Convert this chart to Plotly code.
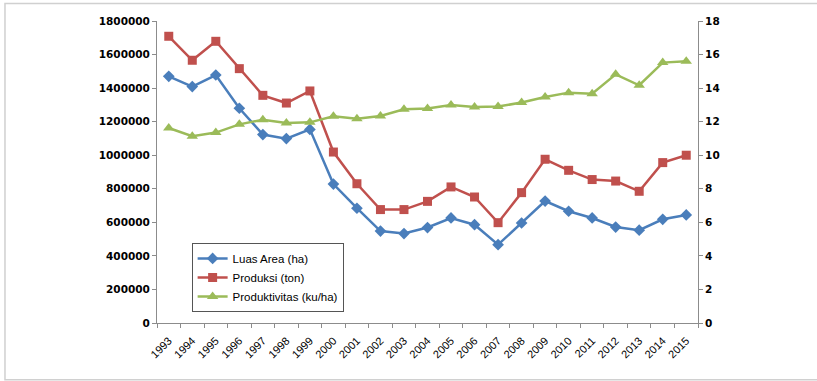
import plotly.graph_objects as go

years = [str(y) for y in range(1993, 2016)]
luas_area = [1470000, 1409000, 1478000, 1280000, 1123000, 1099000, 1154000, 828000, 684000,
             548000, 533000, 569000, 626000, 586000, 467000, 596000, 727000, 666000, 626000,
             572000, 553000, 618000, 644000]
produksi = [1709000, 1566000, 1679000, 1516000, 1357000, 1311000, 1383000, 1019000, 830000,
            676000, 676000, 725000, 811000, 751000, 598000, 777000, 976000, 910000, 855000,
            846000, 785000, 956000, 1000000]
produktivitas = [11.62, 11.13, 11.35, 11.84, 12.12, 11.92, 11.96, 12.32, 12.18, 12.34, 12.74,
                 12.78, 12.99, 12.87, 12.90, 13.14, 13.47, 13.73, 13.67, 14.82, 14.17, 15.52, 15.60]

left_ticks = list(range(0, 1800001, 200000))
right_ticks = list(range(0, 19, 2))

fig = go.Figure()
fig.add_trace(go.Scatter(x=years, y=luas_area, name="Luas Area (ha)", mode="lines+markers",
                         line=dict(color="#4A7EBB", width=2.5),
                         marker=dict(symbol="diamond", size=9, color="#4A7EBB")))
fig.add_trace(go.Scatter(x=years, y=produksi, name="Produksi (ton)", mode="lines+markers",
                         line=dict(color="#C0504D", width=2.5),
                         marker=dict(symbol="square", size=9, color="#C0504D")))
fig.add_trace(go.Scatter(x=years, y=produktivitas, name="Produktivitas (ku/ha)", mode="lines+markers",
                         line=dict(color="#9BBB59", width=2.5),
                         marker=dict(symbol="triangle-up", size=10, color="#9BBB59"),
                         yaxis="y2"))

axis_color = "#8c8c8c"
tick_font = dict(family="DejaVu Sans", size=10.5, color="#000000", weight="bold")

fig.update_layout(
    width=817, height=381,
    margin=dict(l=157, r=119, t=21, b=58),
    paper_bgcolor="white", plot_bgcolor="white",
    showlegend=True,
    xaxis=dict(type="category", range=[-0.5, 22.5], showgrid=False, showline=True,
               linecolor=axis_color, linewidth=1, ticks="outside", tickson="boundaries",
               ticklen=4, tickcolor=axis_color, tickangle=-45, ticklabelstandoff=6,
               tickfont=dict(family="Liberation Sans", size=11, color="#000000")),
    yaxis=dict(range=[0, 1800000], tickvals=left_ticks, tickformat="d", showgrid=False,
               showline=True, linecolor=axis_color, linewidth=1, ticks="outside", ticklen=4,
               tickcolor=axis_color, tickfont=tick_font, zeroline=False),
    yaxis2=dict(range=[0, 18], tickvals=right_ticks, overlaying="y", side="right",
                showgrid=False, showline=True, linecolor=axis_color, linewidth=1,
                ticks="outside", ticklen=4, tickcolor=axis_color, tickfont=tick_font,
                zeroline=False),
    legend=dict(x=0.064, y=0.265, xanchor="left", yanchor="top",
                bordercolor="#555555", borderwidth=1, bgcolor="white",
                font=dict(family="Liberation Sans", size=11.5, color="#000000"),
                itemwidth=30, tracegroupgap=0),
    shapes=[dict(type="rect", xref="paper", yref="paper",
                 x0=-0.281, x1=1.3, y0=-0.188, y1=1.0576,
                 line=dict(color="#d0d0d0", width=1.5), layer="below")],
)

fig.write_html("out.html")
